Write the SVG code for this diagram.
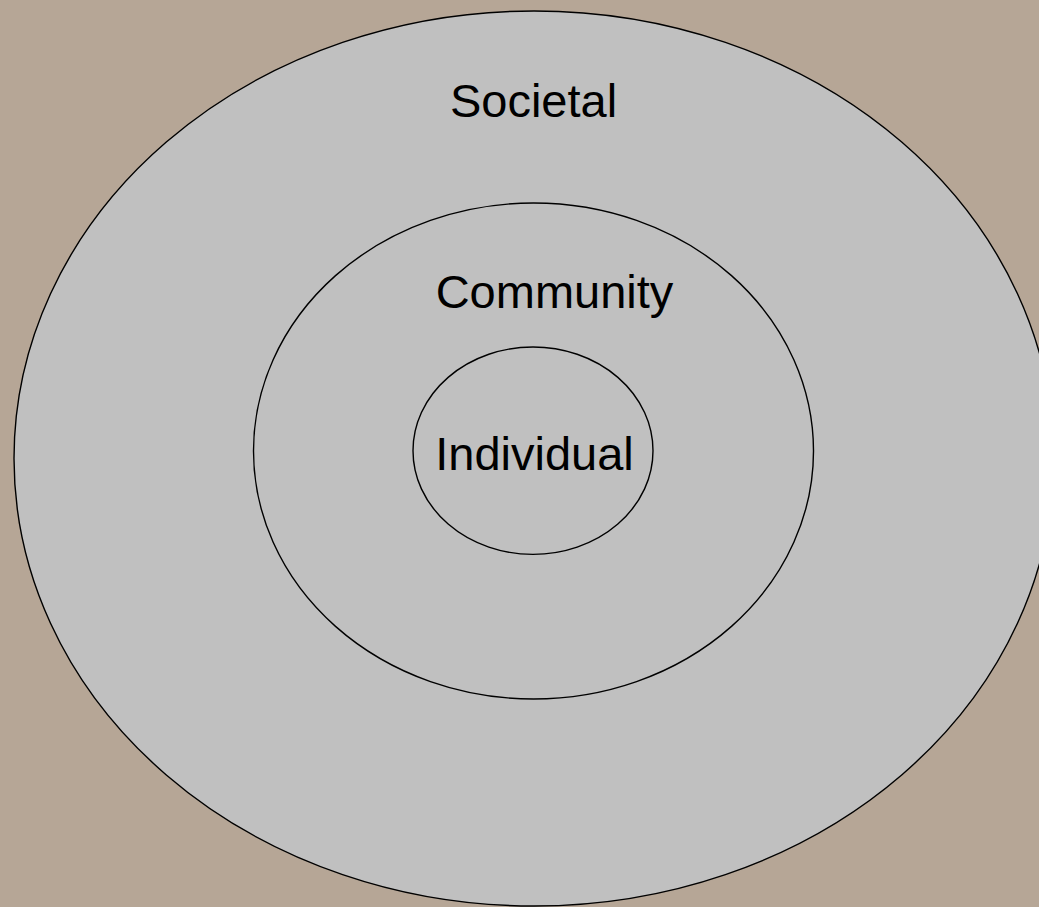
<svg xmlns="http://www.w3.org/2000/svg" width="1039" height="907" viewBox="0 0 1039 907">
<style>
.ring{fill:#C0C0C0;stroke:#000;stroke-width:1.4}
.lbl{font-family:"Liberation Sans",Arial,sans-serif;font-size:47px;fill:#000;text-anchor:middle}
</style>
<rect width="1039" height="907" fill="#B6A696"/>
<g id="societal">
<ellipse class="ring" cx="534" cy="458.5" rx="520" ry="447.5"/>
<text class="lbl" x="533.5" y="117">Societal</text>
</g>
<g id="community">
<ellipse class="ring" cx="533.5" cy="451" rx="280" ry="248"/>
<text class="lbl" x="554.5" y="308">Community</text>
</g>
<g id="individual">
<ellipse class="ring" cx="533" cy="450.7" rx="120" ry="103.7"/>
<text class="lbl" x="534.5" y="470">Individual</text>
</g>
<g id="connectors"/>
</svg>
